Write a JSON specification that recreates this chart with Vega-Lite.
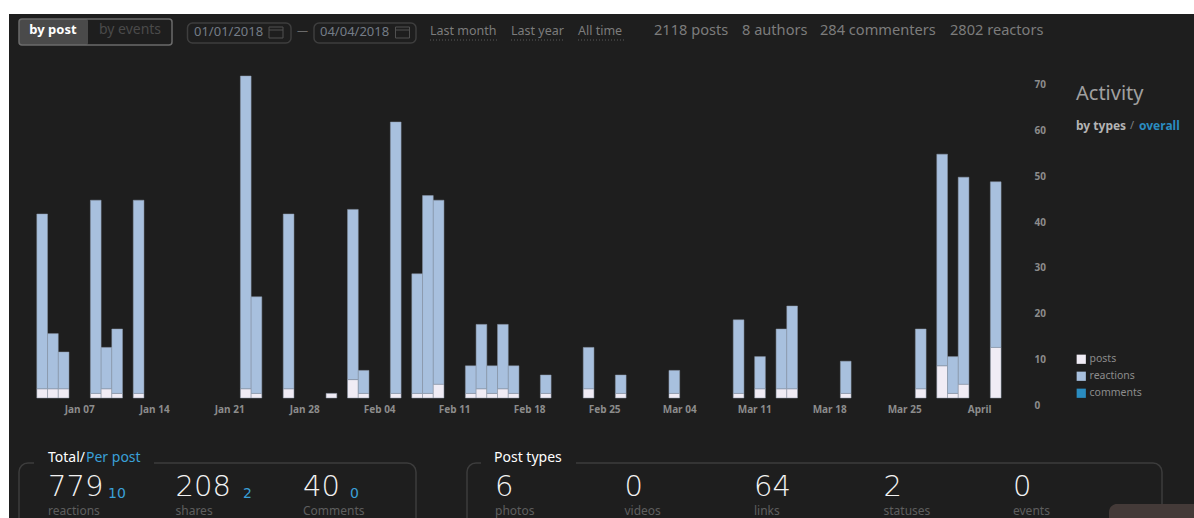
{"$schema":"https://vega.github.io/schema/vega-lite/v6.json","width":1185,"height":504,"padding":{"left":9,"top":14,"right":0,"bottom":0},"autosize":{"type":"none"},"background":"#ffffff","config":{"view":{"fill":"#1e1e1e","stroke":null}},"resolve":{"scale":{"x":"independent","y":"independent"}},
"layer":[
{"data":{"values":[{"shape":"toggle active"}]},"mark":{"type":"rect","fill":"#4a4a4a","cornerRadius":2},"encoding":{"x":{"datum":"a","type":"nominal","axis":null,"scale":{"type":"point","padding":0,"domain":["a","b"],"range":[10,79]}},"x2":{"datum":"b"},"y":{"datum":"a","type":"nominal","axis":null,"scale":{"type":"point","padding":0,"domain":["a","b"],"range":[5,31]}},"y2":{"datum":"b"}}},
{"data":{"values":[{"shape":"toggle frame"}]},"mark":{"type":"rect","fill":null,"stroke":"#6b6b6b","strokeWidth":1.5,"cornerRadius":3},"encoding":{"x":{"datum":"a","type":"nominal","axis":null,"scale":{"type":"point","padding":0,"domain":["a","b"],"range":[10,163]}},"x2":{"datum":"b"},"y":{"datum":"a","type":"nominal","axis":null,"scale":{"type":"point","padding":0,"domain":["a","b"],"range":[5,31]}},"y2":{"datum":"b"}}},
{"data":{"values":[{"shape":"from box"}]},"mark":{"type":"rect","fill":null,"stroke":"#3e3e3e","strokeWidth":1.5,"cornerRadius":5},"encoding":{"x":{"datum":"a","type":"nominal","axis":null,"scale":{"type":"point","padding":0,"domain":["a","b"],"range":[178.5,282]}},"x2":{"datum":"b"},"y":{"datum":"a","type":"nominal","axis":null,"scale":{"type":"point","padding":0,"domain":["a","b"],"range":[9,29]}},"y2":{"datum":"b"}}},
{"data":{"values":[{"shape":"to box"}]},"mark":{"type":"rect","fill":null,"stroke":"#3e3e3e","strokeWidth":1.5,"cornerRadius":5},"encoding":{"x":{"datum":"a","type":"nominal","axis":null,"scale":{"type":"point","padding":0,"domain":["a","b"],"range":[305,407]}},"x2":{"datum":"b"},"y":{"datum":"a","type":"nominal","axis":null,"scale":{"type":"point","padding":0,"domain":["a","b"],"range":[9,29]}},"y2":{"datum":"b"}}},
{"data":{"values":[{"shape":"from icon"}]},"mark":{"type":"rect","fill":null,"stroke":"#505050","strokeWidth":1},"encoding":{"x":{"datum":"a","type":"nominal","axis":null,"scale":{"type":"point","padding":0,"domain":["a","b"],"range":[260,274]}},"x2":{"datum":"b"},"y":{"datum":"a","type":"nominal","axis":null,"scale":{"type":"point","padding":0,"domain":["a","b"],"range":[13,24]}},"y2":{"datum":"b"}}},
{"data":{"values":[{"shape":"to icon"}]},"mark":{"type":"rect","fill":null,"stroke":"#505050","strokeWidth":1},"encoding":{"x":{"datum":"a","type":"nominal","axis":null,"scale":{"type":"point","padding":0,"domain":["a","b"],"range":[386.5,400.5]}},"x2":{"datum":"b"},"y":{"datum":"a","type":"nominal","axis":null,"scale":{"type":"point","padding":0,"domain":["a","b"],"range":[13,24]}},"y2":{"datum":"b"}}},
{"data":{"values":[{"shape":"from icon bar"}]},"mark":{"type":"rule","stroke":"#505050"},"encoding":{"x":{"datum":"a","type":"nominal","axis":null,"scale":{"type":"point","padding":0,"domain":["a","b"],"range":[260,274]}},"x2":{"datum":"b"},"y":{"datum":"a","type":"nominal","axis":null,"scale":{"type":"point","padding":0,"domain":["a"],"range":[16,16]}}}},
{"data":{"values":[{"shape":"to icon bar"}]},"mark":{"type":"rule","stroke":"#505050"},"encoding":{"x":{"datum":"a","type":"nominal","axis":null,"scale":{"type":"point","padding":0,"domain":["a","b"],"range":[386.5,400.5]}},"x2":{"datum":"b"},"y":{"datum":"a","type":"nominal","axis":null,"scale":{"type":"point","padding":0,"domain":["a"],"range":[16,16]}}}},
{"data":{"values":[{"shape":"underline month"}]},"mark":{"type":"rule","stroke":"#5a5a5a","strokeDash":[1,2]},"encoding":{"x":{"datum":"a","type":"nominal","axis":null,"scale":{"type":"point","padding":0,"domain":["a","b"],"range":[421,488]}},"x2":{"datum":"b"},"y":{"datum":"a","type":"nominal","axis":null,"scale":{"type":"point","padding":0,"domain":["a"],"range":[26,26]}}}},
{"data":{"values":[{"shape":"underline year"}]},"mark":{"type":"rule","stroke":"#5a5a5a","strokeDash":[1,2]},"encoding":{"x":{"datum":"a","type":"nominal","axis":null,"scale":{"type":"point","padding":0,"domain":["a","b"],"range":[502,556]}},"x2":{"datum":"b"},"y":{"datum":"a","type":"nominal","axis":null,"scale":{"type":"point","padding":0,"domain":["a"],"range":[26,26]}}}},
{"data":{"values":[{"shape":"underline all"}]},"mark":{"type":"rule","stroke":"#5a5a5a","strokeDash":[1,2]},"encoding":{"x":{"datum":"a","type":"nominal","axis":null,"scale":{"type":"point","padding":0,"domain":["a","b"],"range":[569,615]}},"x2":{"datum":"b"},"y":{"datum":"a","type":"nominal","axis":null,"scale":{"type":"point","padding":0,"domain":["a"],"range":[26,26]}}}},
{"data":{"values":[{"shape":"panel totals"}]},"mark":{"type":"rect","fill":null,"stroke":"#3c3c3c","strokeWidth":1.5,"cornerRadius":9},"encoding":{"x":{"datum":"a","type":"nominal","axis":null,"scale":{"type":"point","padding":0,"domain":["a","b"],"range":[10,407]}},"x2":{"datum":"b"},"y":{"datum":"a","type":"nominal","axis":null,"scale":{"type":"point","padding":0,"domain":["a","b"],"range":[449,560]}},"y2":{"datum":"b"}}},
{"data":{"values":[{"shape":"panel types"}]},"mark":{"type":"rect","fill":null,"stroke":"#3c3c3c","strokeWidth":1.5,"cornerRadius":9},"encoding":{"x":{"datum":"a","type":"nominal","axis":null,"scale":{"type":"point","padding":0,"domain":["a","b"],"range":[458,1153]}},"x2":{"datum":"b"},"y":{"datum":"a","type":"nominal","axis":null,"scale":{"type":"point","padding":0,"domain":["a","b"],"range":[449,560]}},"y2":{"datum":"b"}}},
{"data":{"values":[{"shape":"gap totals"}]},"mark":{"type":"rect","fill":"#1e1e1e"},"encoding":{"x":{"datum":"a","type":"nominal","axis":null,"scale":{"type":"point","padding":0,"domain":["a","b"],"range":[25,145]}},"x2":{"datum":"b"},"y":{"datum":"a","type":"nominal","axis":null,"scale":{"type":"point","padding":0,"domain":["a","b"],"range":[445,453]}},"y2":{"datum":"b"}}},
{"data":{"values":[{"shape":"gap types"}]},"mark":{"type":"rect","fill":"#1e1e1e"},"encoding":{"x":{"datum":"a","type":"nominal","axis":null,"scale":{"type":"point","padding":0,"domain":["a","b"],"range":[472,567]}},"x2":{"datum":"b"},"y":{"datum":"a","type":"nominal","axis":null,"scale":{"type":"point","padding":0,"domain":["a","b"],"range":[445,453]}},"y2":{"datum":"b"}}},
{"data":{"values":[{"shape":"chat"}]},"mark":{"type":"rect","fill":"#443a38","cornerRadius":8},"encoding":{"x":{"datum":"a","type":"nominal","axis":null,"scale":{"type":"point","padding":0,"domain":["a","b"],"range":[1100,1200]}},"x2":{"datum":"b"},"y":{"datum":"a","type":"nominal","axis":null,"scale":{"type":"point","padding":0,"domain":["a","b"],"range":[490,540]}},"y2":{"datum":"b"}}},
{"data":{"values":[{"tick":0},{"tick":10},{"tick":20},{"tick":30},{"tick":40},{"tick":50},{"tick":60},{"tick":70}]},"mark":{"type":"rule","opacity":0},"encoding":{"y":{"field":"tick","type":"quantitative","scale":{"domain":[0,70],"range":[391.5,70.5],"nice":false,"zero":false},"axis":{"orient":"right","offset":-160,"title":null,"grid":false,"domain":false,"ticks":false,"values":[0,10,20,30,40,50,60,70],"labelPadding":0,"labelFont":"Noto Sans","labelFontSize":10,"labelFontWeight":"bold","labelColor":"#8c8c8c"}}}},
{"data":{"values":[
{"date":"2018-01-03","series":"posts","value":4},{"date":"2018-01-03","series":"reactions","value":38},
{"date":"2018-01-04","series":"posts","value":4},{"date":"2018-01-04","series":"reactions","value":12},
{"date":"2018-01-05","series":"posts","value":4},{"date":"2018-01-05","series":"reactions","value":8},
{"date":"2018-01-08","series":"posts","value":3},{"date":"2018-01-08","series":"reactions","value":42},
{"date":"2018-01-09","series":"posts","value":4},{"date":"2018-01-09","series":"reactions","value":9},
{"date":"2018-01-10","series":"posts","value":3},{"date":"2018-01-10","series":"reactions","value":14},
{"date":"2018-01-12","series":"posts","value":3},{"date":"2018-01-12","series":"reactions","value":42},
{"date":"2018-01-22","series":"posts","value":4},{"date":"2018-01-22","series":"reactions","value":68},
{"date":"2018-01-23","series":"posts","value":3},{"date":"2018-01-23","series":"reactions","value":21},
{"date":"2018-01-26","series":"posts","value":4},{"date":"2018-01-26","series":"reactions","value":38},
{"date":"2018-01-30","series":"posts","value":3},
{"date":"2018-02-01","series":"posts","value":6},{"date":"2018-02-01","series":"reactions","value":37},
{"date":"2018-02-02","series":"posts","value":3},{"date":"2018-02-02","series":"reactions","value":5},
{"date":"2018-02-05","series":"posts","value":3},{"date":"2018-02-05","series":"reactions","value":59},
{"date":"2018-02-07","series":"posts","value":3},{"date":"2018-02-07","series":"reactions","value":26},
{"date":"2018-02-08","series":"posts","value":3},{"date":"2018-02-08","series":"reactions","value":43},
{"date":"2018-02-09","series":"posts","value":5},{"date":"2018-02-09","series":"reactions","value":40},
{"date":"2018-02-12","series":"posts","value":3},{"date":"2018-02-12","series":"reactions","value":6},
{"date":"2018-02-13","series":"posts","value":4},{"date":"2018-02-13","series":"reactions","value":14},
{"date":"2018-02-14","series":"posts","value":3},{"date":"2018-02-14","series":"reactions","value":6},
{"date":"2018-02-15","series":"posts","value":4},{"date":"2018-02-15","series":"reactions","value":14},
{"date":"2018-02-16","series":"posts","value":3},{"date":"2018-02-16","series":"reactions","value":6},
{"date":"2018-02-19","series":"posts","value":3},{"date":"2018-02-19","series":"reactions","value":4},
{"date":"2018-02-23","series":"posts","value":4},{"date":"2018-02-23","series":"reactions","value":9},
{"date":"2018-02-26","series":"posts","value":3},{"date":"2018-02-26","series":"reactions","value":4},
{"date":"2018-03-03","series":"posts","value":3},{"date":"2018-03-03","series":"reactions","value":5},
{"date":"2018-03-09","series":"posts","value":3},{"date":"2018-03-09","series":"reactions","value":16},
{"date":"2018-03-11","series":"posts","value":4},{"date":"2018-03-11","series":"reactions","value":7},
{"date":"2018-03-13","series":"posts","value":4},{"date":"2018-03-13","series":"reactions","value":13},
{"date":"2018-03-14","series":"posts","value":4},{"date":"2018-03-14","series":"reactions","value":18},
{"date":"2018-03-19","series":"posts","value":3},{"date":"2018-03-19","series":"reactions","value":7},
{"date":"2018-03-26","series":"posts","value":4},{"date":"2018-03-26","series":"reactions","value":13},
{"date":"2018-03-28","series":"posts","value":9},{"date":"2018-03-28","series":"reactions","value":46},
{"date":"2018-03-29","series":"posts","value":3},{"date":"2018-03-29","series":"reactions","value":8},
{"date":"2018-03-30","series":"posts","value":5},{"date":"2018-03-30","series":"reactions","value":45},
{"date":"2018-04-02","series":"posts","value":13},{"date":"2018-04-02","series":"reactions","value":36}
]},"mark":{"type":"bar","binSpacing":0,"stroke":"#8d99a8","strokeWidth":0.5},"encoding":{
"x":{"field":"date","type":"temporal","timeUnit":"utcyearmonthdate","scale":{"type":"utc","domain":["2018-01-01","2018-04-04"],"range":[5.9,1002.3]},"axis":{"title":null,"orient":"bottom","offset":-114,"grid":false,"domain":false,"ticks":false,"labelPadding":0,"labelFont":"Noto Sans","labelFontSize":10,"labelFontWeight":"bold","labelColor":"#8c8c8c","labelOverlap":false,"values":["2018-01-07","2018-01-14","2018-01-21","2018-01-28","2018-02-04","2018-02-11","2018-02-18","2018-02-25","2018-03-04","2018-03-11","2018-03-18","2018-03-25","2018-04-01"],"labelExpr":"utcFormat(datum.value,'%b %d')=='Apr 01'?'April':utcFormat(datum.value,'%b %d')"}},
"y":{"field":"value","type":"quantitative","stack":"zero","axis":null,"scale":{"domain":[2,72],"range":[384,62],"clamp":true,"nice":false,"zero":false}},
"order":{"field":"series","sort":"ascending"},
"color":{"field":"series","type":"nominal","scale":{"domain":["posts","reactions","comments"],"range":["#f0ecf5","#a8c0de","#2a8cc0"]},"legend":{"title":null,"orient":"none","legendX":1067,"legendY":340,"symbolType":"square","symbolSize":85,"symbolStrokeWidth":0,"rowPadding":6,"labelFont":"Noto Sans","labelFontSize":10.5,"labelColor":"#8c8c8c","labelOffset":3}}}},
{"data":{"values":[{"label":"by post"}]},"mark":{"type":"text","align":"center","baseline":"middle","font":"Noto Sans","fontSize":13,"fontWeight":"bold","color":"#ffffff"},"encoding":{"text":{"field":"label"},"x":{"field":"label","type":"nominal","axis":null,"scale":{"type":"point","padding":0,"range":[44,44]}},"y":{"field":"label","type":"nominal","axis":null,"scale":{"type":"point","padding":0,"range":[16,16]}}}},
{"data":{"values":[{"label":"by events"}]},"mark":{"type":"text","align":"center","baseline":"middle","font":"Noto Sans","fontSize":14,"color":"#4a4a4a"},"encoding":{"text":{"field":"label"},"x":{"field":"label","type":"nominal","axis":null,"scale":{"type":"point","padding":0,"range":[121,121]}},"y":{"field":"label","type":"nominal","axis":null,"scale":{"type":"point","padding":0,"range":[16,16]}}}},
{"data":{"values":[{"label":"01/01/2018"},{"label":"04/04/2018"}]},"mark":{"type":"text","align":"left","baseline":"middle","font":"Noto Sans","fontSize":13,"color":"#747c86"},"encoding":{"text":{"field":"label"},"x":{"field":"label","type":"nominal","axis":null,"scale":{"type":"point","padding":0,"domain":["01/01/2018","04/04/2018"],"range":[185,311]}},"y":{"field":"label","type":"nominal","axis":null,"scale":{"type":"point","padding":0,"range":[17.5,17.5]}}}},
{"data":{"values":[{"label":"—"}]},"mark":{"type":"text","align":"center","baseline":"middle","font":"Noto Sans","fontSize":11,"color":"#6a6a6a"},"encoding":{"text":{"field":"label"},"x":{"field":"label","type":"nominal","axis":null,"scale":{"type":"point","padding":0,"range":[293.5,293.5]}},"y":{"field":"label","type":"nominal","axis":null,"scale":{"type":"point","padding":0,"range":[17,17]}}}},
{"data":{"values":[{"label":"Last month"},{"label":"Last year"}]},"mark":{"type":"text","align":"left","baseline":"middle","font":"Noto Sans","fontSize":12.5,"color":"#7c7c7c"},"encoding":{"text":{"field":"label"},"x":{"field":"label","type":"nominal","axis":null,"scale":{"type":"point","padding":0,"domain":["Last month","Last year"],"range":[421,502]}},"y":{"field":"label","type":"nominal","axis":null,"scale":{"type":"point","padding":0,"range":[17,17]}}}},
{"data":{"values":[{"label":"All time"}]},"mark":{"type":"text","align":"left","baseline":"middle","font":"Noto Sans","fontSize":12.5,"color":"#7c7c7c"},"encoding":{"text":{"field":"label"},"x":{"field":"label","type":"nominal","axis":null,"scale":{"type":"point","padding":0,"range":[569,569]}},"y":{"field":"label","type":"nominal","axis":null,"scale":{"type":"point","padding":0,"range":[17,17]}}}},
{"data":{"values":[{"label":"2118 posts"},{"label":"8 authors"}]},"mark":{"type":"text","align":"left","baseline":"middle","font":"Noto Sans","fontSize":14.6,"color":"#7c7c7c"},"encoding":{"text":{"field":"label"},"x":{"field":"label","type":"nominal","axis":null,"scale":{"type":"point","padding":0,"domain":["2118 posts","8 authors"],"range":[645,733]}},"y":{"field":"label","type":"nominal","axis":null,"scale":{"type":"point","padding":0,"range":[17,17]}}}},
{"data":{"values":[{"label":"284 commenters"},{"label":"2802 reactors"}]},"mark":{"type":"text","align":"left","baseline":"middle","font":"Noto Sans","fontSize":14.6,"color":"#7c7c7c"},"encoding":{"text":{"field":"label"},"x":{"field":"label","type":"nominal","axis":null,"scale":{"type":"point","padding":0,"domain":["284 commenters","2802 reactors"],"range":[811,941]}},"y":{"field":"label","type":"nominal","axis":null,"scale":{"type":"point","padding":0,"range":[17,17]}}}},
{"data":{"values":[{"label":"Activity"}]},"mark":{"type":"text","align":"left","baseline":"middle","font":"Noto Sans","fontSize":20,"color":"#a0a0a0"},"encoding":{"text":{"field":"label"},"x":{"field":"label","type":"nominal","axis":null,"scale":{"type":"point","padding":0,"range":[1067,1067]}},"y":{"field":"label","type":"nominal","axis":null,"scale":{"type":"point","padding":0,"range":[80,80]}}}},
{"data":{"values":[{"label":"by types"}]},"mark":{"type":"text","align":"left","baseline":"middle","font":"Noto Sans","fontSize":12,"fontWeight":"bold","color":"#b4b4b4"},"encoding":{"text":{"field":"label"},"x":{"field":"label","type":"nominal","axis":null,"scale":{"type":"point","padding":0,"range":[1067,1067]}},"y":{"field":"label","type":"nominal","axis":null,"scale":{"type":"point","padding":0,"range":[112,112]}}}},
{"data":{"values":[{"label":"/"}]},"mark":{"type":"text","align":"left","baseline":"middle","font":"Noto Sans","fontSize":11,"color":"#808080"},"encoding":{"text":{"field":"label"},"x":{"field":"label","type":"nominal","axis":null,"scale":{"type":"point","padding":0,"range":[1121,1121]}},"y":{"field":"label","type":"nominal","axis":null,"scale":{"type":"point","padding":0,"range":[112,112]}}}},
{"data":{"values":[{"label":"overall"}]},"mark":{"type":"text","align":"left","baseline":"middle","font":"Noto Sans","fontSize":12,"fontWeight":"bold","color":"#2a8cc0"},"encoding":{"text":{"field":"label"},"x":{"field":"label","type":"nominal","axis":null,"scale":{"type":"point","padding":0,"range":[1130,1130]}},"y":{"field":"label","type":"nominal","axis":null,"scale":{"type":"point","padding":0,"range":[112,112]}}}},
{"data":{"values":[{"label":"Total/"},{"label":"Post types"}]},"mark":{"type":"text","align":"left","baseline":"middle","font":"Noto Sans","fontSize":14,"color":"#ffffff"},"encoding":{"text":{"field":"label"},"x":{"field":"label","type":"nominal","axis":null,"scale":{"type":"point","padding":0,"domain":["Total/","Post types"],"range":[39,485]}},"y":{"field":"label","type":"nominal","axis":null,"scale":{"type":"point","padding":0,"range":[444,444]}}}},
{"data":{"values":[{"label":"Per post"}]},"mark":{"type":"text","align":"left","baseline":"middle","font":"Noto Sans","fontSize":14,"color":"#3aa0d8"},"encoding":{"text":{"field":"label"},"x":{"field":"label","type":"nominal","axis":null,"scale":{"type":"point","padding":0,"range":[77,77]}},"y":{"field":"label","type":"nominal","axis":null,"scale":{"type":"point","padding":0,"range":[444,444]}}}},
{"data":{"values":[{"metric":"reactions","total":"779"},{"metric":"shares","total":"208"},{"metric":"Comments","total":"40"}]},"mark":{"type":"text","align":"left","baseline":"middle","font":"DejaVu Sans","fontSize":29,"fontWeight":200,"color":"#f2f2f2"},"encoding":{"text":{"field":"total"},"x":{"field":"metric","type":"nominal","axis":null,"scale":{"type":"point","padding":0,"domain":["reactions","shares","Comments"],"range":[39,294]}},"y":{"field":"metric","type":"nominal","axis":null,"scale":{"type":"point","padding":0,"range":[472.5,472.5]}}}},
{"data":{"values":[{"metric":"reactions","perPost":"10"}]},"mark":{"type":"text","align":"left","baseline":"middle","font":"DejaVu Sans","fontSize":14,"color":"#3aa0d8"},"encoding":{"text":{"field":"perPost"},"x":{"field":"metric","type":"nominal","axis":null,"scale":{"type":"point","padding":0,"range":[99,99]}},"y":{"field":"metric","type":"nominal","axis":null,"scale":{"type":"point","padding":0,"range":[480,480]}}}},
{"data":{"values":[{"metric":"shares","perPost":"2"}]},"mark":{"type":"text","align":"left","baseline":"middle","font":"DejaVu Sans","fontSize":14,"color":"#3aa0d8"},"encoding":{"text":{"field":"perPost"},"x":{"field":"metric","type":"nominal","axis":null,"scale":{"type":"point","padding":0,"range":[234,234]}},"y":{"field":"metric","type":"nominal","axis":null,"scale":{"type":"point","padding":0,"range":[480,480]}}}},
{"data":{"values":[{"metric":"Comments","perPost":"0"}]},"mark":{"type":"text","align":"left","baseline":"middle","font":"DejaVu Sans","fontSize":14,"color":"#3aa0d8"},"encoding":{"text":{"field":"perPost"},"x":{"field":"metric","type":"nominal","axis":null,"scale":{"type":"point","padding":0,"range":[341,341]}},"y":{"field":"metric","type":"nominal","axis":null,"scale":{"type":"point","padding":0,"range":[480,480]}}}},
{"data":{"values":[{"metric":"reactions"},{"metric":"shares"},{"metric":"Comments"}]},"mark":{"type":"text","align":"left","baseline":"middle","font":"Noto Sans","fontSize":12,"color":"#5e5e5e"},"encoding":{"text":{"field":"metric"},"x":{"field":"metric","type":"nominal","axis":null,"scale":{"type":"point","padding":0,"domain":["reactions","shares","Comments"],"range":[39,294]}},"y":{"field":"metric","type":"nominal","axis":null,"scale":{"type":"point","padding":0,"range":[496.5,496.5]}}}},
{"data":{"values":[{"type":"photos","count":"6"},{"type":"videos","count":"0"},{"type":"links","count":"64"},{"type":"statuses","count":"2"},{"type":"events","count":"0"}]},"mark":{"type":"text","align":"left","baseline":"middle","font":"DejaVu Sans","fontSize":29,"fontWeight":200,"color":"#f2f2f2"},"encoding":{"text":{"field":"count"},"x":{"field":"type","type":"nominal","axis":null,"scale":{"type":"point","padding":0,"domain":["photos","videos","links","statuses","events"],"range":[486,1004]}},"y":{"field":"type","type":"nominal","axis":null,"scale":{"type":"point","padding":0,"range":[472.5,472.5]}}}},
{"data":{"values":[{"type":"photos"},{"type":"videos"},{"type":"links"},{"type":"statuses"},{"type":"events"}]},"mark":{"type":"text","align":"left","baseline":"middle","font":"Noto Sans","fontSize":12,"color":"#5e5e5e"},"encoding":{"text":{"field":"type"},"x":{"field":"type","type":"nominal","axis":null,"scale":{"type":"point","padding":0,"domain":["photos","videos","links","statuses","events"],"range":[486,1004]}},"y":{"field":"type","type":"nominal","axis":null,"scale":{"type":"point","padding":0,"range":[496.5,496.5]}}}}
]}
